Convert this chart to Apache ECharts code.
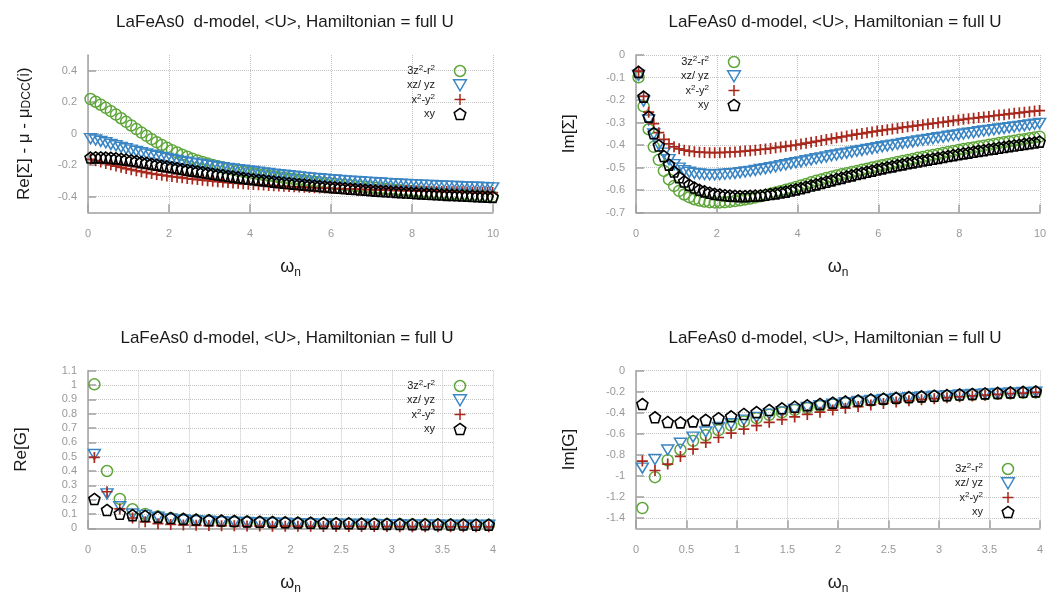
<!DOCTYPE html>
<html><head><meta charset="utf-8">
<script src="https://cdn.jsdelivr.net/npm/echarts@6/dist/echarts.min.js"></script>
<style>html,body{margin:0;padding:0;background:#fff}#c{width:1051px;height:593px}</style>
</head><body><div id="c"></div>
<script>
// ---------- data ----------
const omegaTop = [0.063,0.188,0.314,0.440,0.565,0.691,0.817,0.942,1.068,1.194,1.319,1.445,1.571,1.696,1.822,1.948,2.073,2.199,2.325,2.450,2.576,2.702,2.827,2.953,3.079,3.204,3.330,3.456,3.581,3.707,3.833,3.958,4.084,4.210,4.335,4.461,4.587,4.712,4.838,4.964,5.089,5.215,5.341,5.466,5.592,5.718,5.843,5.969,6.095,6.220,6.346,6.472,6.597,6.723,6.849,6.974,7.100,7.226,7.351,7.477,7.603,7.728,7.854,7.980,8.105,8.231,8.357,8.482,8.608,8.734,8.859,8.985,9.111,9.236,9.362,9.488,9.613,9.739,9.865,9.990];
const omegaBottom = [0.063,0.188,0.314,0.440,0.565,0.691,0.817,0.942,1.068,1.194,1.319,1.445,1.571,1.696,1.822,1.948,2.073,2.199,2.325,2.450,2.576,2.702,2.827,2.953,3.079,3.204,3.330,3.456,3.581,3.707,3.833,3.958];

const orbitalNames = ['3z²-r²','xz/ yz','x²-y²','xy'];

// Re[Sigma] - mu - mu_DCC
const reSigma_3z2 = [0.220,0.203,0.184,0.164,0.143,0.121,0.098,0.075,0.052,0.029,0.007,-0.014,-0.035,-0.054,-0.072,-0.089,-0.105,-0.120,-0.134,-0.147,-0.159,-0.170,-0.180,-0.190,-0.199,-0.207,-0.215,-0.222,-0.229,-0.236,-0.242,-0.248,-0.253,-0.258,-0.263,-0.268,-0.272,-0.277,-0.281,-0.285,-0.289,-0.293,-0.297,-0.301,-0.305,-0.309,-0.313,-0.316,-0.320,-0.323,-0.327,-0.330,-0.334,-0.337,-0.340,-0.343,-0.346,-0.349,-0.352,-0.355,-0.358,-0.360,-0.363,-0.366,-0.368,-0.371,-0.373,-0.376,-0.378,-0.380,-0.383,-0.385,-0.387,-0.389,-0.391,-0.393,-0.395,-0.397,-0.399,-0.401];
const reSigma_xz = [-0.032,-0.040,-0.049,-0.058,-0.068,-0.077,-0.087,-0.096,-0.105,-0.113,-0.121,-0.129,-0.137,-0.144,-0.151,-0.158,-0.164,-0.170,-0.176,-0.182,-0.187,-0.192,-0.197,-0.202,-0.207,-0.212,-0.216,-0.221,-0.225,-0.229,-0.233,-0.237,-0.241,-0.245,-0.249,-0.253,-0.257,-0.261,-0.264,-0.268,-0.271,-0.275,-0.278,-0.281,-0.284,-0.287,-0.290,-0.292,-0.295,-0.297,-0.300,-0.302,-0.304,-0.306,-0.308,-0.310,-0.312,-0.314,-0.316,-0.318,-0.320,-0.321,-0.323,-0.324,-0.326,-0.327,-0.329,-0.330,-0.331,-0.333,-0.334,-0.335,-0.336,-0.338,-0.339,-0.340,-0.341,-0.342,-0.343,-0.345];
const reSigma_x2y2 = [-0.163,-0.172,-0.181,-0.190,-0.198,-0.206,-0.214,-0.222,-0.229,-0.236,-0.242,-0.248,-0.254,-0.259,-0.264,-0.269,-0.273,-0.277,-0.281,-0.285,-0.289,-0.292,-0.296,-0.299,-0.302,-0.305,-0.308,-0.311,-0.314,-0.316,-0.319,-0.321,-0.323,-0.325,-0.327,-0.329,-0.331,-0.333,-0.335,-0.336,-0.338,-0.339,-0.341,-0.342,-0.344,-0.345,-0.346,-0.347,-0.349,-0.350,-0.351,-0.352,-0.353,-0.354,-0.355,-0.356,-0.357,-0.358,-0.359,-0.360,-0.361,-0.362,-0.362,-0.363,-0.364,-0.365,-0.366,-0.366,-0.367,-0.368,-0.368,-0.369,-0.370,-0.370,-0.371,-0.372,-0.372,-0.373,-0.373,-0.374];
const reSigma_xy = [-0.152,-0.151,-0.151,-0.152,-0.154,-0.157,-0.161,-0.165,-0.170,-0.175,-0.181,-0.186,-0.192,-0.197,-0.203,-0.208,-0.214,-0.219,-0.225,-0.230,-0.235,-0.240,-0.245,-0.250,-0.255,-0.260,-0.264,-0.269,-0.273,-0.278,-0.282,-0.286,-0.290,-0.294,-0.297,-0.301,-0.305,-0.308,-0.312,-0.315,-0.318,-0.321,-0.324,-0.327,-0.330,-0.333,-0.336,-0.339,-0.342,-0.344,-0.347,-0.350,-0.352,-0.355,-0.357,-0.360,-0.362,-0.364,-0.366,-0.368,-0.370,-0.372,-0.374,-0.376,-0.378,-0.380,-0.382,-0.384,-0.385,-0.387,-0.389,-0.390,-0.392,-0.393,-0.395,-0.396,-0.398,-0.399,-0.401,-0.402];

// Im[Sigma]
const imSigma_3z2 = [-0.099,-0.228,-0.330,-0.408,-0.466,-0.515,-0.553,-0.582,-0.604,-0.620,-0.632,-0.641,-0.647,-0.651,-0.654,-0.655,-0.655,-0.654,-0.652,-0.649,-0.646,-0.642,-0.638,-0.633,-0.628,-0.623,-0.617,-0.611,-0.605,-0.599,-0.593,-0.587,-0.580,-0.573,-0.566,-0.559,-0.553,-0.547,-0.541,-0.535,-0.530,-0.525,-0.520,-0.515,-0.510,-0.505,-0.500,-0.495,-0.490,-0.485,-0.481,-0.476,-0.471,-0.467,-0.462,-0.457,-0.453,-0.448,-0.444,-0.440,-0.435,-0.431,-0.427,-0.422,-0.418,-0.414,-0.411,-0.407,-0.403,-0.399,-0.395,-0.391,-0.388,-0.384,-0.381,-0.377,-0.374,-0.370,-0.367,-0.363];
const imSigma_xz = [-0.091,-0.205,-0.289,-0.351,-0.399,-0.436,-0.465,-0.487,-0.503,-0.514,-0.521,-0.526,-0.529,-0.531,-0.532,-0.532,-0.531,-0.530,-0.528,-0.526,-0.523,-0.520,-0.517,-0.513,-0.509,-0.505,-0.501,-0.497,-0.492,-0.488,-0.483,-0.479,-0.475,-0.470,-0.466,-0.461,-0.457,-0.453,-0.448,-0.444,-0.440,-0.436,-0.432,-0.428,-0.424,-0.420,-0.416,-0.412,-0.408,-0.404,-0.401,-0.397,-0.393,-0.390,-0.386,-0.382,-0.379,-0.375,-0.372,-0.368,-0.365,-0.361,-0.358,-0.355,-0.351,-0.348,-0.345,-0.341,-0.338,-0.335,-0.332,-0.329,-0.326,-0.323,-0.320,-0.317,-0.314,-0.311,-0.308,-0.304];
const imSigma_x2y2 = [-0.072,-0.184,-0.254,-0.305,-0.345,-0.375,-0.395,-0.408,-0.417,-0.423,-0.427,-0.430,-0.432,-0.433,-0.434,-0.434,-0.434,-0.433,-0.432,-0.431,-0.429,-0.427,-0.425,-0.423,-0.420,-0.418,-0.415,-0.412,-0.409,-0.406,-0.403,-0.400,-0.396,-0.392,-0.388,-0.384,-0.380,-0.376,-0.372,-0.368,-0.364,-0.360,-0.356,-0.352,-0.349,-0.345,-0.342,-0.338,-0.335,-0.332,-0.329,-0.326,-0.322,-0.319,-0.316,-0.313,-0.310,-0.307,-0.304,-0.301,-0.298,-0.295,-0.292,-0.289,-0.286,-0.283,-0.281,-0.278,-0.275,-0.273,-0.270,-0.267,-0.265,-0.262,-0.259,-0.257,-0.254,-0.252,-0.249,-0.247];
const imSigma_xy = [-0.075,-0.185,-0.274,-0.347,-0.402,-0.449,-0.487,-0.518,-0.543,-0.562,-0.577,-0.589,-0.599,-0.606,-0.612,-0.617,-0.620,-0.623,-0.625,-0.626,-0.627,-0.627,-0.626,-0.625,-0.624,-0.621,-0.618,-0.615,-0.611,-0.607,-0.602,-0.597,-0.592,-0.586,-0.580,-0.575,-0.569,-0.563,-0.557,-0.551,-0.546,-0.540,-0.535,-0.529,-0.524,-0.519,-0.514,-0.509,-0.504,-0.499,-0.495,-0.490,-0.486,-0.481,-0.477,-0.473,-0.469,-0.465,-0.461,-0.457,-0.453,-0.449,-0.445,-0.441,-0.437,-0.434,-0.430,-0.426,-0.423,-0.419,-0.416,-0.412,-0.409,-0.405,-0.402,-0.399,-0.395,-0.392,-0.389,-0.385];

// Re[G]
const reG_3z2 = [1.005,0.400,0.205,0.133,0.100,0.082,0.071,0.064,0.058,0.054,0.050,0.047,0.045,0.042,0.040,0.038,0.037,0.035,0.034,0.033,0.032,0.031,0.030,0.029,0.028,0.027,0.026,0.025,0.025,0.024,0.023,0.023];
const reG_xz = [0.515,0.240,0.150,0.100,0.090,0.078,0.065,0.058,0.053,0.049,0.046,0.043,0.041,0.039,0.037,0.035,0.033,0.032,0.031,0.030,0.029,0.028,0.027,0.026,0.025,0.024,0.024,0.023,0.022,0.022,0.021,0.021];
const reG_x2y2 = [0.495,0.255,0.135,0.072,0.045,0.032,0.027,0.023,0.021,0.019,0.018,0.017,0.016,0.016,0.015,0.015,0.014,0.014,0.013,0.013,0.013,0.012,0.012,0.012,0.011,0.011,0.011,0.011,0.010,0.010,0.010,0.010];
const reG_xy = [0.205,0.128,0.102,0.092,0.087,0.080,0.072,0.066,0.061,0.057,0.054,0.051,0.048,0.046,0.044,0.042,0.040,0.039,0.037,0.036,0.035,0.033,0.032,0.031,0.030,0.029,0.028,0.028,0.027,0.026,0.025,0.025];

// Im[G]
const imG_3z2 = [-1.307,-1.013,-0.852,-0.752,-0.668,-0.614,-0.566,-0.520,-0.484,-0.452,-0.420,-0.397,-0.373,-0.355,-0.336,-0.321,-0.308,-0.296,-0.285,-0.276,-0.267,-0.259,-0.252,-0.246,-0.240,-0.234,-0.229,-0.224,-0.220,-0.215,-0.211,-0.207];
const imG_xz = [-0.927,-0.845,-0.755,-0.690,-0.632,-0.584,-0.540,-0.505,-0.470,-0.444,-0.413,-0.392,-0.368,-0.350,-0.333,-0.318,-0.305,-0.293,-0.282,-0.273,-0.264,-0.256,-0.249,-0.243,-0.237,-0.231,-0.226,-0.221,-0.217,-0.212,-0.208,-0.204];
const imG_x2y2 = [-0.860,-0.950,-0.889,-0.816,-0.747,-0.684,-0.636,-0.595,-0.557,-0.523,-0.491,-0.465,-0.440,-0.416,-0.395,-0.375,-0.357,-0.341,-0.326,-0.312,-0.299,-0.287,-0.276,-0.266,-0.257,-0.248,-0.240,-0.233,-0.226,-0.219,-0.213,-0.207];
const imG_xy = [-0.317,-0.443,-0.488,-0.492,-0.482,-0.468,-0.452,-0.434,-0.412,-0.394,-0.374,-0.358,-0.343,-0.329,-0.316,-0.304,-0.293,-0.283,-0.274,-0.266,-0.258,-0.251,-0.244,-0.238,-0.232,-0.226,-0.221,-0.216,-0.211,-0.206,-0.201,-0.197];

// tick labels
const reSigmaTicks = [-0.4,-0.2,0,0.2,0.4];
const imGTicks = [-1.4,-1.2,-1,-0.8,-0.6,-0.4,-0.2,0];

// ---------- styling ----------
const FONT = '"Liberation Sans", Arial, sans-serif';
const TITLE = 'LaFeAs0 d-model, <U>, Hamiltonian = full U';
const TITLE1 = 'LaFeAs0  d-model, <U>, Hamiltonian = full U';
const markers = {
  '3z²-r²': {symbol:'circle', size:11, color:'#5ea63a', bw:1.5},
  'xz/ yz': {symbol:'path://M0,0L10,0L5,8.66Z', size:[12,10], color:'#3a85c4', bw:1.5},
  'x²-y²': {symbol:'path://M0,5L10,5M5,0L5,10', size:11, color:'#a8281d', bw:1.7},
  'xy': {symbol:'path://M5,0L9.755,3.455L7.939,9.045L2.061,9.045L0.245,3.455Z', size:11, color:'#000000', bw:1.6}
};
const legendRich = {'3z²-r²':'3z{s|2}-r{s|2}', 'x²-y²':'x{s|2}-y{s|2}'};

const panels = [
  {x: omegaTop, ys:[reSigma_3z2, reSigma_xz, reSigma_x2y2, reSigma_xy], grid:{left:88, top:55, width:405, height:157.3},
   xmax:10, xint:2, ymin:-0.5, ymax:0.5, yticks:reSigmaTicks, yname:'Re[Σ] - μ - μ{sub|DCC}(i)', ynameGap:55,
   title:TITLE1, tx:285, ty:14, legend:{left:375, top:64}},
  {x: omegaTop, ys:[imSigma_3z2, imSigma_xz, imSigma_x2y2, imSigma_xy], grid:{left:636, top:55, width:404, height:157.5},
   xmax:10, xint:2, ymin:-0.7, ymax:0, yint:0.1, yname:'Im[Σ]', ynameGap:58,
   title:TITLE, tx:835, ty:14, legend:{left:649, top:55}},
  {x: omegaBottom, ys:[reG_3z2, reG_xz, reG_x2y2, reG_xy], grid:{left:88, top:370.7, width:405, height:157.6},
   xmax:4, xint:0.5, ymin:0, ymax:1.1, yint:0.1, yname:'Re[G]', ynameGap:58,
   title:TITLE, tx:287, ty:330, legend:{left:375, top:379}},
  {x: omegaBottom, ys:[imG_3z2, imG_xz, imG_x2y2, imG_xy], grid:{left:636, top:370.7, width:404, height:157.6},
   xmax:4, xint:0.5, ymin:-1.5, ymax:0, yticks:imGTicks, yname:'Im[G]', ynameGap:58,
   title:TITLE, tx:835, ty:330, legend:{left:923, top:462}}
];

const axisGray = '#a0a0a0';
const option = {
  animation:false, backgroundColor:'#ffffff',
  textStyle:{fontFamily:FONT},
  title:[], grid:[], xAxis:[], yAxis:[], legend:[], series:[]
};

panels.forEach((p, gi) => {
  option.title.push({text:p.title, left:p.tx, top:p.ty, textAlign:'center', padding:0,
    textStyle:{fontFamily:FONT, fontSize:17, fontWeight:'normal', color:'#1a1a1a'}});
  option.grid.push(Object.assign({containLabel:false, outerBoundsMode:'none'}, p.grid));
  option.xAxis.push({
    gridIndex:gi, type:'value', min:0, max:p.xmax, interval:p.xint,
    axisLine:{show:true, onZero:false, lineStyle:{color:axisGray, width:1.5}},
    axisTick:{show:true, inside:true, length:8, lineStyle:{color:axisGray, width:1.5}},
    axisLabel:{color:'#999', fontSize:11, fontFamily:FONT, margin:16, showMinLabel:true, showMaxLabel:true},
    splitLine:{show:true, lineStyle:{color:'#c4c4c4', type:'dotted', width:1}},
    name:'ω{sub|n}', nameLocation:'middle', nameGap:44, nameMoveOverlap:false,
    nameTextStyle:{fontFamily:FONT, fontSize:18, color:'#1a1a1a', lineHeight:22,
      rich:{sub:{fontFamily:FONT, fontSize:12, lineHeight:12, verticalAlign:'bottom', color:'#1a1a1a'}}}
  });
  const y = {
    gridIndex:gi, type:'value', min:p.ymin, max:p.ymax,
    axisLine:{show:true, onZero:false, lineStyle:{color:axisGray, width:1.5}},
    axisTick:{show:true, inside:true, length:8, lineStyle:{color:axisGray, width:1.5}},
    axisLabel:{color:'#999', fontSize:11, fontFamily:FONT, margin:11, showMinLabel:true, showMaxLabel:true},
    splitLine:{show:true, lineStyle:{color:'#c4c4c4', type:'dotted', width:1}},
    name:p.yname, nameLocation:'middle', nameGap:p.ynameGap, nameMoveOverlap:false,
    nameTextStyle:{fontFamily:FONT, fontSize:17, color:'#1a1a1a',
      rich:{sub:{fontFamily:FONT, fontSize:12, verticalAlign:'bottom', color:'#1a1a1a'}}}
  };
  if (p.yticks) {
    y.axisTick.customValues = p.yticks;
    y.axisLabel.customValues = p.yticks;
  } else {
    y.interval = p.yint;
  }
  option.yAxis.push(y);
  option.legend.push({
    show:true, orient:'vertical', align:'right', left:p.legend.left, top:p.legend.top, padding:0,
    itemGap:0.3, itemWidth:40, itemHeight:11, selectedMode:false, data:orbitalNames,
    formatter: n => legendRich[n] || n,
    itemStyle:{borderWidth:1.5},
    textStyle:{fontFamily:FONT, fontSize:11, color:'#1a1a1a', width:60, align:'right', lineHeight:14,
      rich:{s:{fontFamily:FONT, fontSize:8, lineHeight:8, verticalAlign:'top', color:'#1a1a1a'}}}
  });
  orbitalNames.forEach((name, si) => {
    const m = markers[name];
    option.series.push({
      type:'scatter', name:name, xAxisIndex:gi, yAxisIndex:gi,
      symbol:m.symbol, symbolSize:m.size, silent:true,
      itemStyle:{color:'rgba(0,0,0,0)', borderColor:m.color, borderWidth:m.bw, opacity:1},
      emphasis:{disabled:true},
      data:p.x.map((xv, i) => [xv, p.ys[si][i]])
    });
  });
});

const chart = echarts.init(document.getElementById('c'), null, {renderer:'canvas'});
chart.setOption(option);
</script>
</body></html>
